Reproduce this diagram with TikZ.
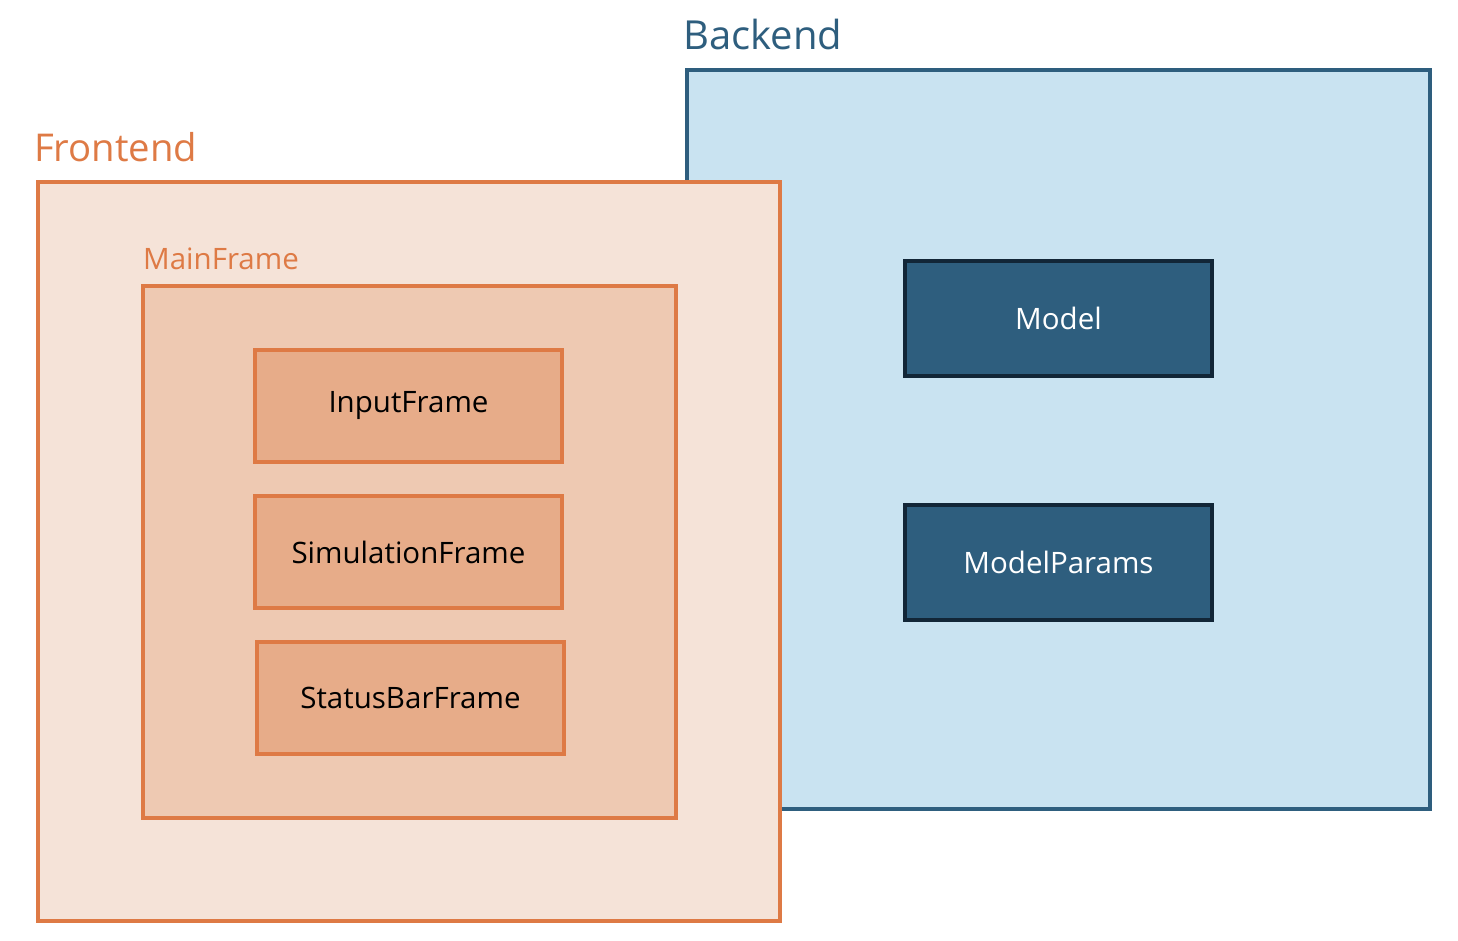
\documentclass[tikz,border=0pt]{standalone}
\usepackage{fontspec}
\setmainfont{Open Sans}
\definecolor{feline}{RGB}{222,122,69}
\definecolor{fefill}{RGB}{245,227,216}
\definecolor{mffill}{RGB}{238,201,178}
\definecolor{inner}{RGB}{231,172,137}
\definecolor{beline}{RGB}{46,94,126}
\definecolor{befill}{RGB}{201,227,241}
\definecolor{mdline}{RGB}{18,38,55}
\tikzset{
  box/.style={draw, rectangle, line width=3.3pt, anchor=north west, inner sep=0pt, outer sep=0pt},
  febox/.style={box, draw=feline, fill=fefill},
  mfbox/.style={box, draw=feline, fill=mffill},
  framebox/.style={box, draw=feline, fill=inner, minimum width=307pt, minimum height=112pt, font=\fontsize{29.5}{32}\selectfont, text=black},
  bebox/.style={box, draw=beline, fill=befill},
  mdbox/.style={box, line width=3.8pt, draw=mdline, fill=beline, minimum width=307pt, minimum height=115pt, font=\fontsize{29.5}{32}\selectfont, text=white},
  biglabel/.style={anchor=base west, inner sep=0pt},
  smalllabel/.style={anchor=base west, inner sep=0pt, font=\fontsize{29.5}{32}\selectfont}
}
\begin{document}
\begin{tikzpicture}[x=1pt,y=-1pt]
\useasboundingbox (0,0) rectangle (1458,940);
% Backend
\node[bebox, minimum width=743pt, minimum height=739pt] (backend) at (687,70) {};
\node[biglabel, text=beline, font=\fontsize{40}{44}\selectfont] (belabel) at (683,49) {Backend};
\node[mdbox] (model) at (905,261) {Model};
\node[mdbox] (params) at (905,505) {ModelParams};
% Frontend
\node[febox, minimum width=742pt, minimum height=739pt] (frontend) at (38,182) {};
\node[biglabel, text=feline, font=\fontsize{38.3}{42}\selectfont] (felabel) at (34,161) {Frontend};
\node[mfbox, minimum width=533pt, minimum height=532pt] (mainframe) at (143,286) {};
\node[smalllabel, text=feline] (mflabel) at (143,269) {MainFrame};
\node[framebox] (input) at (255,350) {InputFrame};
\node[framebox] (sim) at (255,496) {SimulationFrame};
\node[framebox] (status) at (257,642) {StatusBarFrame};
\end{tikzpicture}
\end{document}
